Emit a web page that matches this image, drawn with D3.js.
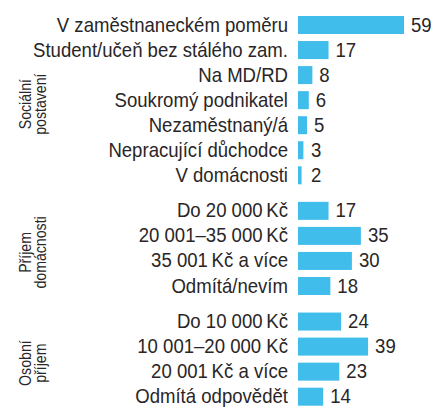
<!DOCTYPE html>
<html><head><meta charset="utf-8">
<script src="https://cdn.jsdelivr.net/npm/d3@7"></script>
<style>
html,body{margin:0;padding:0;background:#fff;}
svg{display:block;}
text{font-family:"Liberation Sans",Arial,Helvetica,sans-serif;fill:#2a2627;}
</style></head>
<body>
<script>
const groups = [
  ["Sociální", "postavení"],
  ["Příjem", "domácnosti"],
  ["Osobní", "příjem"]
];
const categories = [
  "V zaměstnaneckém poměru",
  "Student/učeň bez stálého zam.",
  "Na MD/RD",
  "Soukromý podnikatel",
  "Nezaměstnaný/á",
  "Nepracující důchodce",
  "V domácnosti",
  "Do 20 000\u2009Kč",
  "20 001–35 000\u2009Kč",
  "35 001\u2009Kč a více",
  "Odmítá/nevím",
  "Do 10 000\u2009Kč",
  "10 001–20 000 Kč",
  "20 001\u2009Kč a více",
  "Odmítá odpovědět"
];
const groupOf = [0,0,0,0,0,0,0,1,1,1,1,2,2,2,2];
const values = [59,17,8,6,5,3,2,17,35,30,18,24,39,23,14];

const W = 433, H = 409;
const svg = d3.select("body").append("svg").attr("width", W).attr("height", H);

const x = d3.scaleLinear().domain([0, 59]).range([298, 404]);
const idx = d3.scaleLinear().domain([0, 14]).range([25, 25 + 14*25.05]);
const yc = i => idx(i) + groupOf[i]*10.5;
const barH = 18;
const sx = 0.885;
const fs = 21;
const color = "#41bdec";

const rows = categories.map((c,i)=>({c, v:values[i], i, g:groupOf[i]}));

svg.selectAll("rect.bar").data(rows).join("rect")
  .attr("class","bar")
  .attr("x", x(0))
  .attr("y", d => yc(d.i) - barH/2)
  .attr("width", d => x(d.v) - x(0))
  .attr("height", barH)
  .attr("fill", color);

svg.selectAll("text.cat").data(rows).join("text")
  .attr("class","cat")
  .attr("text-anchor","end")
  .attr("font-size", fs)
  .attr("transform", d => `translate(288,${yc(d.i)+6.5}) scale(${sx},1)`)
  .text(d => d.c);

svg.selectAll("text.val").data(rows).join("text")
  .attr("class","val")
  .attr("text-anchor","start")
  .attr("font-size", fs)
  .attr("transform", d => `translate(${Math.max(x(d.v)+7, 311)},${yc(d.i)+6.5}) scale(${sx},1)`)
  .text(d => d.v);

groups.forEach((lines, g) => {
  const ids = rows.filter(r => r.g === g).map(r => r.i);
  const cy = (yc(d3.min(ids)) + yc(d3.max(ids)))/2 + 4;
  lines.forEach((t, k) => {
    svg.append("text")
      .attr("text-anchor","middle")
      .attr("font-size", 16)
      .attr("transform", `translate(${31 + k*15},${cy}) rotate(-90) scale(${sx},1)`)
      .text(t);
  });
});
</script>
</body></html>
